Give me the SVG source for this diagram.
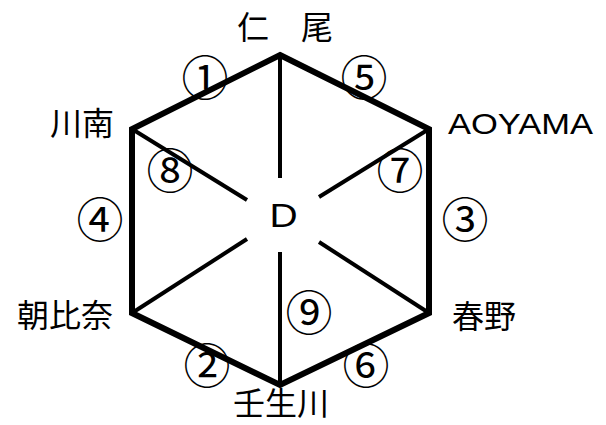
<svg xmlns="http://www.w3.org/2000/svg" width="606" height="425" viewBox="0 0 606 425">
<style>
.hex{fill:none;stroke:#000;stroke-width:6;stroke-linejoin:miter}
.sp{stroke:#000;stroke-width:4;fill:none}
.jp{font-family:"Noto Sans CJK JP","Noto Sans",sans-serif;font-size:32px;fill:#000}
.lat{font-family:"Liberation Sans",Arial,sans-serif;fill:#000}
.num{font-family:"Noto Sans CJK JP","Noto Sans",sans-serif;font-size:47px;fill:#000;text-anchor:middle;dominant-baseline:central}
</style>
<rect width="606" height="425" fill="#fff"/>
<g id="connectors">
<polygon class="hex" points="280,55 429,129 429,313 280,385 132,313 132,129"/>
<line class="sp" x1="280" y1="55" x2="280" y2="178"/>
<line class="sp" x1="280" y1="252" x2="280" y2="385"/>
<line class="sp" x1="132" y1="129" x2="247" y2="200"/>
<line class="sp" x1="132" y1="313" x2="247" y2="239"/>
<line class="sp" x1="429" y1="129" x2="319" y2="197"/>
<line class="sp" x1="429" y1="313" x2="319" y2="242"/>
<text class="num" x="205" y="74">①</text>
<text class="num" x="364" y="74">⑤</text>
<text class="num" x="170" y="167">⑧</text>
<text class="num" x="100" y="216">④</text>
<text class="num" x="400" y="167">⑦</text>
<text class="num" x="465" y="216">③</text>
<text class="num" x="207" y="362">②</text>
<text class="num" x="366" y="362">⑥</text>
<text class="num" x="309" y="309">⑨</text>
</g>
<g id="node-nio"><text class="jp" x="285" y="39" text-anchor="middle" font-size="30">仁　尾</text></g>
<g id="node-kawanami"><text class="jp" x="82" y="135" text-anchor="middle">川南</text></g>
<g id="node-aoyama"><text class="lat" x="448" y="134" font-size="29" textLength="145" lengthAdjust="spacingAndGlyphs">AOYAMA</text></g>
<g id="node-asahina"><text class="jp" x="65" y="327" text-anchor="middle">朝比奈</text></g>
<g id="node-haruno"><text class="jp" x="484" y="328" text-anchor="middle">春野</text></g>
<g id="node-nyugawa"><text class="jp" x="281" y="415" text-anchor="middle" font-size="30">壬生川</text></g>
<g id="node-d"><text class="lat" font-size="33" text-anchor="middle" transform="translate(283.5 227) scale(1.18 1)">D</text></g>
</svg>
